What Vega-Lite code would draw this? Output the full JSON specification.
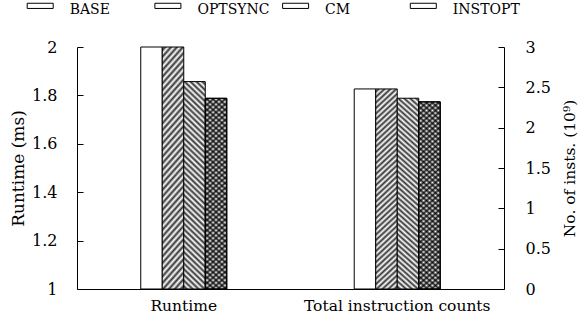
{
  "$schema": "https://vega.github.io/schema/vega-lite/v6.json",
  "width": 427,
  "height": 242,
  "autosize": "none",
  "padding": {"left": 77, "top": 47, "right": 82, "bottom": 34},
  "background": "white",
  "params": [
    {"name": "gF", "value": {"gradient": "linear", "x1": 0, "y1": 0, "x2": 0.1089, "y2": 1.0891, "stops": [{"offset":0,"color":"#fff"},{"offset":0.0125,"color":"#333"},{"offset":0.025,"color":"#fff"},{"offset":0.0375,"color":"#333"},{"offset":0.05,"color":"#fff"},{"offset":0.0625,"color":"#333"},{"offset":0.075,"color":"#fff"},{"offset":0.0875,"color":"#333"},{"offset":0.1,"color":"#fff"},{"offset":0.1125,"color":"#333"},{"offset":0.125,"color":"#fff"},{"offset":0.1375,"color":"#333"},{"offset":0.15,"color":"#fff"},{"offset":0.1625,"color":"#333"},{"offset":0.175,"color":"#fff"},{"offset":0.1875,"color":"#333"},{"offset":0.2,"color":"#fff"},{"offset":0.2125,"color":"#333"},{"offset":0.225,"color":"#fff"},{"offset":0.2375,"color":"#333"},{"offset":0.25,"color":"#fff"},{"offset":0.2625,"color":"#333"},{"offset":0.275,"color":"#fff"},{"offset":0.2875,"color":"#333"},{"offset":0.3,"color":"#fff"},{"offset":0.3125,"color":"#333"},{"offset":0.325,"color":"#fff"},{"offset":0.3375,"color":"#333"},{"offset":0.35,"color":"#fff"},{"offset":0.3625,"color":"#333"},{"offset":0.375,"color":"#fff"},{"offset":0.3875,"color":"#333"},{"offset":0.4,"color":"#fff"},{"offset":0.4125,"color":"#333"},{"offset":0.425,"color":"#fff"},{"offset":0.4375,"color":"#333"},{"offset":0.45,"color":"#fff"},{"offset":0.4625,"color":"#333"},{"offset":0.475,"color":"#fff"},{"offset":0.4875,"color":"#333"},{"offset":0.5,"color":"#fff"},{"offset":0.5125,"color":"#333"},{"offset":0.525,"color":"#fff"},{"offset":0.5375,"color":"#333"},{"offset":0.55,"color":"#fff"},{"offset":0.5625,"color":"#333"},{"offset":0.575,"color":"#fff"},{"offset":0.5875,"color":"#333"},{"offset":0.6,"color":"#fff"},{"offset":0.6125,"color":"#333"},{"offset":0.625,"color":"#fff"},{"offset":0.6375,"color":"#333"},{"offset":0.65,"color":"#fff"},{"offset":0.6625,"color":"#333"},{"offset":0.675,"color":"#fff"},{"offset":0.6875,"color":"#333"},{"offset":0.7,"color":"#fff"},{"offset":0.7125,"color":"#333"},{"offset":0.725,"color":"#fff"},{"offset":0.7375,"color":"#333"},{"offset":0.75,"color":"#fff"},{"offset":0.7625,"color":"#333"},{"offset":0.775,"color":"#fff"},{"offset":0.7875,"color":"#333"},{"offset":0.8,"color":"#fff"},{"offset":0.8125,"color":"#333"},{"offset":0.825,"color":"#fff"},{"offset":0.8375,"color":"#333"},{"offset":0.85,"color":"#fff"},{"offset":0.8625,"color":"#333"},{"offset":0.875,"color":"#fff"},{"offset":0.8875,"color":"#333"},{"offset":0.9,"color":"#fff"},{"offset":0.9125,"color":"#333"},{"offset":0.925,"color":"#fff"},{"offset":0.9375,"color":"#333"},{"offset":0.95,"color":"#fff"},{"offset":0.9625,"color":"#333"},{"offset":0.975,"color":"#fff"},{"offset":0.9875,"color":"#333"},{"offset":1,"color":"#fff"}]}},
    {"name": "gB", "value": {"gradient": "linear", "x1": 0, "y1": 1, "x2": 0.1089, "y2": -0.0891, "stops": [{"offset":0,"color":"#fff"},{"offset":0.0125,"color":"#333"},{"offset":0.025,"color":"#fff"},{"offset":0.0375,"color":"#333"},{"offset":0.05,"color":"#fff"},{"offset":0.0625,"color":"#333"},{"offset":0.075,"color":"#fff"},{"offset":0.0875,"color":"#333"},{"offset":0.1,"color":"#fff"},{"offset":0.1125,"color":"#333"},{"offset":0.125,"color":"#fff"},{"offset":0.1375,"color":"#333"},{"offset":0.15,"color":"#fff"},{"offset":0.1625,"color":"#333"},{"offset":0.175,"color":"#fff"},{"offset":0.1875,"color":"#333"},{"offset":0.2,"color":"#fff"},{"offset":0.2125,"color":"#333"},{"offset":0.225,"color":"#fff"},{"offset":0.2375,"color":"#333"},{"offset":0.25,"color":"#fff"},{"offset":0.2625,"color":"#333"},{"offset":0.275,"color":"#fff"},{"offset":0.2875,"color":"#333"},{"offset":0.3,"color":"#fff"},{"offset":0.3125,"color":"#333"},{"offset":0.325,"color":"#fff"},{"offset":0.3375,"color":"#333"},{"offset":0.35,"color":"#fff"},{"offset":0.3625,"color":"#333"},{"offset":0.375,"color":"#fff"},{"offset":0.3875,"color":"#333"},{"offset":0.4,"color":"#fff"},{"offset":0.4125,"color":"#333"},{"offset":0.425,"color":"#fff"},{"offset":0.4375,"color":"#333"},{"offset":0.45,"color":"#fff"},{"offset":0.4625,"color":"#333"},{"offset":0.475,"color":"#fff"},{"offset":0.4875,"color":"#333"},{"offset":0.5,"color":"#fff"},{"offset":0.5125,"color":"#333"},{"offset":0.525,"color":"#fff"},{"offset":0.5375,"color":"#333"},{"offset":0.55,"color":"#fff"},{"offset":0.5625,"color":"#333"},{"offset":0.575,"color":"#fff"},{"offset":0.5875,"color":"#333"},{"offset":0.6,"color":"#fff"},{"offset":0.6125,"color":"#333"},{"offset":0.625,"color":"#fff"},{"offset":0.6375,"color":"#333"},{"offset":0.65,"color":"#fff"},{"offset":0.6625,"color":"#333"},{"offset":0.675,"color":"#fff"},{"offset":0.6875,"color":"#333"},{"offset":0.7,"color":"#fff"},{"offset":0.7125,"color":"#333"},{"offset":0.725,"color":"#fff"},{"offset":0.7375,"color":"#333"},{"offset":0.75,"color":"#fff"},{"offset":0.7625,"color":"#333"},{"offset":0.775,"color":"#fff"},{"offset":0.7875,"color":"#333"},{"offset":0.8,"color":"#fff"},{"offset":0.8125,"color":"#333"},{"offset":0.825,"color":"#fff"},{"offset":0.8375,"color":"#333"},{"offset":0.85,"color":"#fff"},{"offset":0.8625,"color":"#333"},{"offset":0.875,"color":"#fff"},{"offset":0.8875,"color":"#333"},{"offset":0.9,"color":"#fff"},{"offset":0.9125,"color":"#333"},{"offset":0.925,"color":"#fff"},{"offset":0.9375,"color":"#333"},{"offset":0.95,"color":"#fff"},{"offset":0.9625,"color":"#333"},{"offset":0.975,"color":"#fff"},{"offset":0.9875,"color":"#333"},{"offset":1,"color":"#fff"}]}},
    {"name": "gBT", "value": {"gradient": "linear", "x1": 0, "y1": 1, "x2": 0.1089, "y2": -0.0891, "stops": [{"offset":0,"color":"rgba(0,0,0,0)"},{"offset":0.0125,"color":"rgba(0,0,0,0.8)"},{"offset":0.025,"color":"rgba(0,0,0,0)"},{"offset":0.0375,"color":"rgba(0,0,0,0.8)"},{"offset":0.05,"color":"rgba(0,0,0,0)"},{"offset":0.0625,"color":"rgba(0,0,0,0.8)"},{"offset":0.075,"color":"rgba(0,0,0,0)"},{"offset":0.0875,"color":"rgba(0,0,0,0.8)"},{"offset":0.1,"color":"rgba(0,0,0,0)"},{"offset":0.1125,"color":"rgba(0,0,0,0.8)"},{"offset":0.125,"color":"rgba(0,0,0,0)"},{"offset":0.1375,"color":"rgba(0,0,0,0.8)"},{"offset":0.15,"color":"rgba(0,0,0,0)"},{"offset":0.1625,"color":"rgba(0,0,0,0.8)"},{"offset":0.175,"color":"rgba(0,0,0,0)"},{"offset":0.1875,"color":"rgba(0,0,0,0.8)"},{"offset":0.2,"color":"rgba(0,0,0,0)"},{"offset":0.2125,"color":"rgba(0,0,0,0.8)"},{"offset":0.225,"color":"rgba(0,0,0,0)"},{"offset":0.2375,"color":"rgba(0,0,0,0.8)"},{"offset":0.25,"color":"rgba(0,0,0,0)"},{"offset":0.2625,"color":"rgba(0,0,0,0.8)"},{"offset":0.275,"color":"rgba(0,0,0,0)"},{"offset":0.2875,"color":"rgba(0,0,0,0.8)"},{"offset":0.3,"color":"rgba(0,0,0,0)"},{"offset":0.3125,"color":"rgba(0,0,0,0.8)"},{"offset":0.325,"color":"rgba(0,0,0,0)"},{"offset":0.3375,"color":"rgba(0,0,0,0.8)"},{"offset":0.35,"color":"rgba(0,0,0,0)"},{"offset":0.3625,"color":"rgba(0,0,0,0.8)"},{"offset":0.375,"color":"rgba(0,0,0,0)"},{"offset":0.3875,"color":"rgba(0,0,0,0.8)"},{"offset":0.4,"color":"rgba(0,0,0,0)"},{"offset":0.4125,"color":"rgba(0,0,0,0.8)"},{"offset":0.425,"color":"rgba(0,0,0,0)"},{"offset":0.4375,"color":"rgba(0,0,0,0.8)"},{"offset":0.45,"color":"rgba(0,0,0,0)"},{"offset":0.4625,"color":"rgba(0,0,0,0.8)"},{"offset":0.475,"color":"rgba(0,0,0,0)"},{"offset":0.4875,"color":"rgba(0,0,0,0.8)"},{"offset":0.5,"color":"rgba(0,0,0,0)"},{"offset":0.5125,"color":"rgba(0,0,0,0.8)"},{"offset":0.525,"color":"rgba(0,0,0,0)"},{"offset":0.5375,"color":"rgba(0,0,0,0.8)"},{"offset":0.55,"color":"rgba(0,0,0,0)"},{"offset":0.5625,"color":"rgba(0,0,0,0.8)"},{"offset":0.575,"color":"rgba(0,0,0,0)"},{"offset":0.5875,"color":"rgba(0,0,0,0.8)"},{"offset":0.6,"color":"rgba(0,0,0,0)"},{"offset":0.6125,"color":"rgba(0,0,0,0.8)"},{"offset":0.625,"color":"rgba(0,0,0,0)"},{"offset":0.6375,"color":"rgba(0,0,0,0.8)"},{"offset":0.65,"color":"rgba(0,0,0,0)"},{"offset":0.6625,"color":"rgba(0,0,0,0.8)"},{"offset":0.675,"color":"rgba(0,0,0,0)"},{"offset":0.6875,"color":"rgba(0,0,0,0.8)"},{"offset":0.7,"color":"rgba(0,0,0,0)"},{"offset":0.7125,"color":"rgba(0,0,0,0.8)"},{"offset":0.725,"color":"rgba(0,0,0,0)"},{"offset":0.7375,"color":"rgba(0,0,0,0.8)"},{"offset":0.75,"color":"rgba(0,0,0,0)"},{"offset":0.7625,"color":"rgba(0,0,0,0.8)"},{"offset":0.775,"color":"rgba(0,0,0,0)"},{"offset":0.7875,"color":"rgba(0,0,0,0.8)"},{"offset":0.8,"color":"rgba(0,0,0,0)"},{"offset":0.8125,"color":"rgba(0,0,0,0.8)"},{"offset":0.825,"color":"rgba(0,0,0,0)"},{"offset":0.8375,"color":"rgba(0,0,0,0.8)"},{"offset":0.85,"color":"rgba(0,0,0,0)"},{"offset":0.8625,"color":"rgba(0,0,0,0.8)"},{"offset":0.875,"color":"rgba(0,0,0,0)"},{"offset":0.8875,"color":"rgba(0,0,0,0.8)"},{"offset":0.9,"color":"rgba(0,0,0,0)"},{"offset":0.9125,"color":"rgba(0,0,0,0.8)"},{"offset":0.925,"color":"rgba(0,0,0,0)"},{"offset":0.9375,"color":"rgba(0,0,0,0.8)"},{"offset":0.95,"color":"rgba(0,0,0,0)"},{"offset":0.9625,"color":"rgba(0,0,0,0.8)"},{"offset":0.975,"color":"rgba(0,0,0,0)"},{"offset":0.9875,"color":"rgba(0,0,0,0.8)"},{"offset":1,"color":"rgba(0,0,0,0)"}]}},
    {"name": "lF", "value": {"gradient": "linear", "x1": 0, "y1": 0, "x2": 1.1538, "y2": 0.2308, "stops": [{"offset":0,"color":"#fff"},{"offset":0.0833,"color":"#333"},{"offset":0.1667,"color":"#fff"},{"offset":0.25,"color":"#333"},{"offset":0.3333,"color":"#fff"},{"offset":0.4167,"color":"#333"},{"offset":0.5,"color":"#fff"},{"offset":0.5833,"color":"#333"},{"offset":0.6667,"color":"#fff"},{"offset":0.75,"color":"#333"},{"offset":0.8333,"color":"#fff"},{"offset":0.9167,"color":"#333"},{"offset":1,"color":"#fff"}]}},
    {"name": "lB", "value": {"gradient": "linear", "x1": 0, "y1": 1, "x2": 1.1538, "y2": 0.7692, "stops": [{"offset":0,"color":"#fff"},{"offset":0.0833,"color":"#333"},{"offset":0.1667,"color":"#fff"},{"offset":0.25,"color":"#333"},{"offset":0.3333,"color":"#fff"},{"offset":0.4167,"color":"#333"},{"offset":0.5,"color":"#fff"},{"offset":0.5833,"color":"#333"},{"offset":0.6667,"color":"#fff"},{"offset":0.75,"color":"#333"},{"offset":0.8333,"color":"#fff"},{"offset":0.9167,"color":"#333"},{"offset":1,"color":"#fff"}]}},
    {"name": "lX", "value": {"gradient": "linear", "x1": 0, "y1": 0, "x2": 1.1538, "y2": 0.2308, "stops": [{"offset":0,"color":"#ccc"},{"offset":0.0833,"color":"#222"},{"offset":0.1667,"color":"#ccc"},{"offset":0.25,"color":"#222"},{"offset":0.3333,"color":"#ccc"},{"offset":0.4167,"color":"#222"},{"offset":0.5,"color":"#ccc"},{"offset":0.5833,"color":"#222"},{"offset":0.6667,"color":"#ccc"},{"offset":0.75,"color":"#222"},{"offset":0.8333,"color":"#ccc"},{"offset":0.9167,"color":"#222"},{"offset":1,"color":"#ccc"}]}}
  ],
  "config": {
    "view": {"stroke": null},
    "axis": {"domainColor": "black", "tickColor": "black", "labelColor": "black", "titleColor": "black", "labelFontSize": 16, "titleFontSize": 16, "titleFontWeight": "normal", "grid": false, "domainWidth": 1, "tickWidth": 1, "labelLimit": 400},
    "bar": {"strokeWidth": 1}
  },
  "data": {"values": [
    {"group": "Runtime", "series": "BASE", "value": 2.0},
    {"group": "Runtime", "series": "OPTSYNC", "value": 2.0},
    {"group": "Runtime", "series": "CM", "value": 1.857},
    {"group": "Runtime", "series": "INSTOPT", "value": 1.788},
    {"group": "Total instruction counts", "series": "BASE", "value": 2.48},
    {"group": "Total instruction counts", "series": "OPTSYNC", "value": 2.48},
    {"group": "Total instruction counts", "series": "CM", "value": 2.365},
    {"group": "Total instruction counts", "series": "INSTOPT", "value": 2.32}
  ]},
  "encoding": {
    "x": {"field": "group", "type": "nominal", "sort": null,
      "scale": {"domain": ["Runtime", "Total instruction counts"], "paddingInner": 0.597, "paddingOuter": 0.2986},
      "axis": {"title": null, "labelAngle": 0, "ticks": false, "labelPadding": 9, "labelLimit": 400, "labelFont": "DejaVu Serif", "labelFontSize": 15.5}},
    "xOffset": {"field": "series", "type": "nominal", "sort": null,
      "scale": {"domain": ["BASE", "OPTSYNC", "CM", "INSTOPT"], "paddingInner": 0, "paddingOuter": 0}},
    "stroke": {"field": "series", "type": "nominal",
      "scale": {"domain": ["BASE", "OPTSYNC", "CM", "INSTOPT"], "range": ["black", "black", "black", "black"]},
      "legend": {"title": null, "orient": "none", "legendX": -50.3, "legendY": -51, "direction": "horizontal", "columns": 4, "gridAlign": "all", "columnPadding": 9.7, "padding": 0,
        "symbolType": "M-1,-0.5H1V-0.1H-1Z", "symbolSize": 676, "symbolStrokeWidth": 1, "symbolStrokeColor": "black",
        "labelFont": "DejaVu Serif", "labelFontSize": 14, "labelFontWeight": "normal", "labelColor": "black", "labelOffset": 16,
        "encode": {"symbols": {
          "stroke": {"value": "black"},
          "strokeWidth": {"value": 1},
          "fill": {"value": {"expr": "datum.value === 'OPTSYNC' ? lF : datum.value === 'CM' ? lB : datum.value === 'INSTOPT' ? lX : 'white'"}}
        }}
      }}
  },
  "layer": [
    {
      "transform": [{"filter": "datum.group === 'Runtime'"}],
      "encoding": {
        "y": {"field": "value", "type": "quantitative",
          "scale": {"domain": [1, 2], "zero": false, "nice": false},
          "axis": {"orient": "left", "values": [1, 1.2, 1.4, 1.6, 1.8, 2], "format": "~g", "title": "Runtime (ms)", "tickSize": -6, "labelPadding": 26, "titlePadding": 4, "labelFont": "DejaVu Serif", "titleFont": "DejaVu Serif", "titleFontSize": 17}},
        "y2": {"datum": 1}
      },
      "layer": [
        {"transform": [{"filter": "datum.series === 'BASE'"}], "mark": {"type": "bar", "fill": "white", "strokeWidth": 1}},
        {"transform": [{"filter": "datum.series === 'OPTSYNC'"}], "mark": {"type": "bar", "fill": {"expr": "gF"}, "strokeWidth": 1}},
        {"transform": [{"filter": "datum.series === 'CM'"}], "mark": {"type": "bar", "fill": {"expr": "gB"}, "strokeWidth": 1}},
        {"transform": [{"filter": "datum.series === 'INSTOPT'"}], "mark": {"type": "bar", "fill": {"expr": "gF"}, "strokeWidth": 1}},
        {"transform": [{"filter": "datum.series === 'INSTOPT'"}], "mark": {"type": "bar", "fill": {"expr": "gBT"}, "strokeWidth": 1}}
      ]
    },
    {
      "transform": [{"filter": "datum.group === 'Total instruction counts'"}],
      "encoding": {
        "y": {"field": "value", "type": "quantitative",
          "scale": {"domain": [0, 3], "nice": false},
          "axis": {"orient": "right", "values": [0, 0.5, 1, 1.5, 2, 2.5, 3], "format": "~g", "title": "No. of insts. (10⁹)", "titleAngle": -90, "titleBaseline": "top", "tickSize": -6, "labelPadding": 27, "titlePadding": 12, "labelFont": "DejaVu Serif", "titleFont": "DejaVu Serif", "titleFontSize": 15.5}}
      },
      "layer": [
        {"transform": [{"filter": "datum.series === 'BASE'"}], "mark": {"type": "bar", "fill": "white", "strokeWidth": 1}},
        {"transform": [{"filter": "datum.series === 'OPTSYNC'"}], "mark": {"type": "bar", "fill": {"expr": "gF"}, "strokeWidth": 1}},
        {"transform": [{"filter": "datum.series === 'CM'"}], "mark": {"type": "bar", "fill": {"expr": "gB"}, "strokeWidth": 1}},
        {"transform": [{"filter": "datum.series === 'INSTOPT'"}], "mark": {"type": "bar", "fill": {"expr": "gF"}, "strokeWidth": 1}},
        {"transform": [{"filter": "datum.series === 'INSTOPT'"}], "mark": {"type": "bar", "fill": {"expr": "gBT"}, "strokeWidth": 1}}
      ]
    }
  ],
  "resolve": {"scale": {"y": "independent"}}
}
